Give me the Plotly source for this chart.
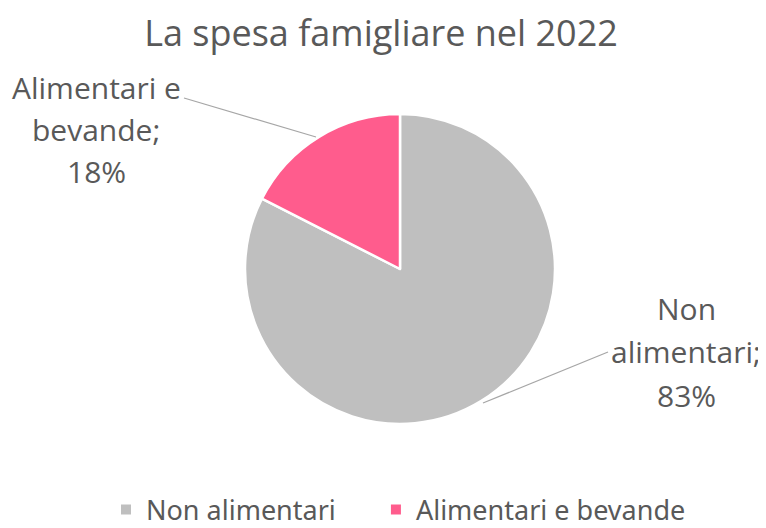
import plotly.graph_objects as go

title_text = "La spesa famigliare nel 2022"
categories = ["Non alimentari", "Alimentari e bevande"]
values = [82.5, 17.5]
percent_labels = ["83%", "18%"]
label_lines = [["Non", "alimentari;"], ["Alimentari e", "bevande;"]]
colors = ["#BFBFBF", "#FF5C8D"]

W, H = 766, 528
OFF = 8  # default page body margin in the browser
cx, cy, r = 400, 269, 155


def px(x, y):
    """screen pixel -> paper fraction"""
    return (x - OFF) / W, 1 - (y - OFF) / H


x0d, y1d = px(cx - r, cy - r)
x1d, y0d = px(cx + r, cy + r)

# legend spacing: pad the first legend entry with non-breaking spaces
legend_names = [categories[0] + "\u00a0" * 5, categories[1]]

fig = go.Figure(go.Pie(
    labels=legend_names,
    values=values,
    sort=False,
    direction="clockwise",
    rotation=0,
    marker=dict(colors=colors, line=dict(color="white", width=2.5)),
    textinfo="none",
    customdata=categories,
    hovertemplate="%{customdata}: %{percent}<extra></extra>",
    domain=dict(x=[x0d, x1d], y=[y0d, y1d]),
))

TXT = "#595959"
LABEL_FONT = dict(family="Open Sans", size=30, color=TXT)

# label blocks: (center x, first line y, line spacing)
blocks = {0: (686, 308, 43.5), 1: (96, 87, 42.5)}
annotations = []
for i, (bx, by, sp) in blocks.items():
    lines = label_lines[i] + [percent_labels[i]]
    for k, t in enumerate(lines):
        x, y = px(bx, by + sp * k)
        annotations.append(dict(x=x, y=y, xref="paper", yref="paper", text=t,
                                showarrow=False, xanchor="center", yanchor="middle",
                                font=LABEL_FONT))

shapes = []
leaders = [((608, 352), (483, 403)), ((184, 98), (316, 137))]
for (xa, ya), (xb, yb) in leaders:
    a = px(xa, ya); b = px(xb, yb)
    shapes.append(dict(type="line", xref="paper", yref="paper", x0=a[0], y0=a[1], x1=b[0], y1=b[1],
                       line=dict(color="#A6A6A6", width=1.2)))

tx, ty = px(381, 33)
lx, ly = px(106, 510)

fig.update_layout(
    width=W, height=H,
    margin=dict(l=0, r=0, t=0, b=0),
    paper_bgcolor="white",
    title=dict(text=title_text, x=tx, xanchor="center", y=ty, yanchor="middle",
               font=dict(family="Open Sans", size=36, color=TXT)),
    showlegend=True,
    legend=dict(orientation="h", x=lx, xanchor="left", y=ly, yanchor="middle",
                font=dict(family="Noto Sans", size=27, color=TXT), itemsizing="constant",
                traceorder="normal"),
    annotations=annotations,
    shapes=shapes,
)

fig.write_html("out.html")
